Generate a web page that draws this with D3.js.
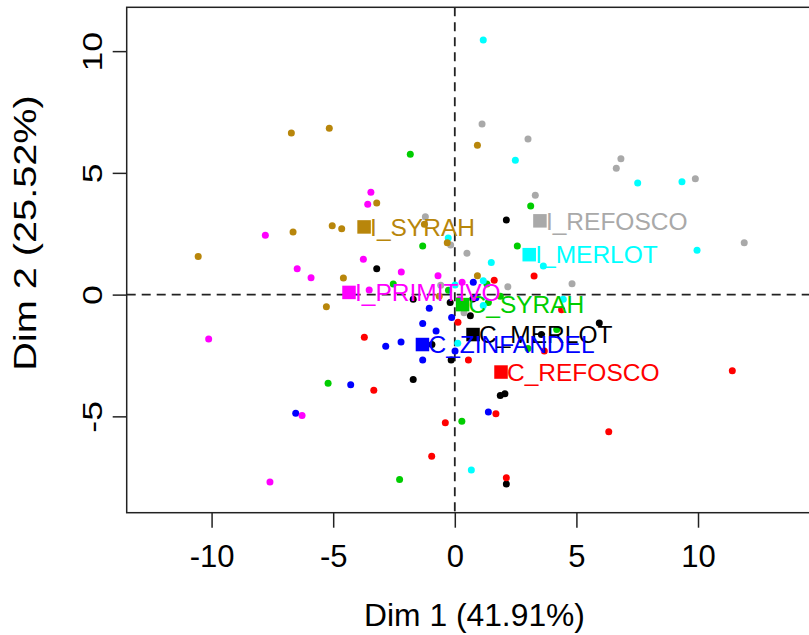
<!DOCTYPE html>
<html>
<head>
<meta charset="utf-8">
<script src="https://cdn.jsdelivr.net/npm/d3@7"></script>
<style>
  html, body { margin: 0; padding: 0; background: #fff; }
  svg { display: block; font-family: "Liberation Sans", Arial, Helvetica, sans-serif; }
</style>
</head>
<body>
<svg id="chart" width="809" height="635"></svg>
<script>
// ---- Data ----
const categories = ["C_MERLOT","C_REFOSCO","C_SYRAH","C_ZINFANDEL","I_MERLOT","I_PRIMITIVO","I_REFOSCO","I_SYRAH"];
const colors = ["#000000","#FF0000","#00CD00","#0000FF","#00FFFF","#FF00FF","#A9A9A9","#B8860B"];

// individual scores, Dim 1 and Dim 2, per category
const cMerlotX = [-3.21,-1.71,-0.19,0.74,0.64,-0.94,-0.15,-1.71,2.12,5.94,3.56,1.87,2.06,2.12];
const cMerlotY = [1.06,-0.19,-0.32,-0.18,-0.87,-2.05,-2.69,-3.49,3.06,-1.17,-1.64,-4.14,-4.07,-7.78];
const cRefoscoX = [3.26,1.62,4.39,0.13,3.68,0.56,-3.72,-3.33,-0.39,-0.95,1.69,6.33,11.41,2.12];
const cRefoscoY = [0.76,0.59,-0.62,-1.14,-2.32,-2.69,-1.75,-3.93,-5.26,-6.64,-4.89,-5.63,-3.13,-7.52];
const cSyrahX = [-1.83,-1.32,3.12,2.57,-2.53,-0.26,1.32,1.87,1.38,4.19,3.01,-5.21,0.29,-2.27];
const cSyrahY = [5.76,2.00,3.64,2.00,0.44,0.18,0.44,-0.07,-0.32,-1.43,-2.21,-3.64,-5.20,-7.59];
const cZinfandelX = [0.76,0.87,-1.05,-0.13,-1.32,-0.77,-2.21,-2.84,0.01,-1.32,-4.28,-6.54,1.38,-1.33];
const cZinfandelY = [0.51,-0.13,-0.56,-0.94,-1.19,-1.49,-1.95,-2.12,-2.32,-2.69,-3.70,-4.87,-4.82,-2.05];
const iMerlotX = [1.17,2.49,7.52,9.34,9.96,3.64,1.50,-0.27,0.01,1.17,4.46,1.17,0.12,0.68];
const iMerlotY = [10.46,5.52,4.58,4.64,1.82,1.18,1.32,2.32,0.39,0.57,-0.19,-0.45,-2.00,-7.20];
const iPrimitivoX = [-3.45,-3.58,-7.79,-3.76,-6.48,-5.91,-2.20,-0.69,0.30,-3.52,-10.12,-6.28,-7.60,0.18];
const iPrimitivoY = [4.20,3.71,2.44,1.45,1.06,0.69,0.93,0.77,0.51,0.19,-1.82,-4.96,-7.70,-0.21];
const iRefoscoX = [1.12,3.01,6.83,6.64,9.89,11.90,3.31,-1.21,-0.17,0.50,-0.58,2.18,4.82,0.38];
const iRefoscoY = [7.01,6.39,5.58,5.19,4.76,2.13,4.08,3.20,2.04,1.70,0.38,0.32,0.45,-0.74];
const iSyrahX = [-6.72,-5.16,0.93,-3.21,-1.25,-5.04,-4.65,-6.65,-0.31,-10.55,-4.58,-0.64,0.93,-5.28];
const iSyrahY = [6.64,6.83,6.13,3.76,2.89,2.83,2.71,2.57,2.13,1.57,0.68,-0.07,0.77,-0.50];

// category centres (squares)
const centreX = [0.75,1.90,0.32,-1.33,3.06,-4.35,3.50,-3.73];
const centreY = [-1.64,-3.18,-0.41,-2.05,1.64,0.09,3.03,2.78];

const xTicks = [-10,-5,0,5,10];
const yTicks = [-5,0,5,10];
const xTitle = "Dim 1 (41.91%)";
const yTitle = "Dim 2 (25.52%)";

// ---- Build ----
const groupsX = [cMerlotX,cRefoscoX,cSyrahX,cZinfandelX,iMerlotX,iPrimitivoX,iRefoscoX,iSyrahX];
const groupsY = [cMerlotY,cRefoscoY,cSyrahY,cZinfandelY,iMerlotY,iPrimitivoY,iRefoscoY,iSyrahY];
const points = [];
groupsX.forEach((gx, gi) => gx.forEach((v, i) => points.push({x: v, y: groupsY[gi][i], g: gi})));
const centres = categories.map((c, i) => ({name: c, x: centreX[i], y: centreY[i], g: i}));

const L = 126.7, R = 822.3, T = 7.3, B = 512.7;
const x = d3.scaleLinear().domain([-13.49, 15.11]).range([L, R]);
const y = d3.scaleLinear().domain([-8.957, 11.80]).range([B, T]);

const svg = d3.select("#chart");

// reference lines
svg.append("line").attr("x1", L).attr("x2", R).attr("y1", y(0)).attr("y2", y(0))
  .attr("stroke", "#222").attr("stroke-width", 1.8).attr("stroke-dasharray", "9,6");
svg.append("line").attr("x1", x(0)).attr("x2", x(0)).attr("y1", T).attr("y2", B)
  .attr("stroke", "#222").attr("stroke-width", 1.8).attr("stroke-dasharray", "9,6");

// axes
const fmt = d => d < 0 ? "-" + Math.abs(d) : String(d);
const xAxis = svg.append("g").attr("transform", `translate(0,${B})`)
  .call(d3.axisBottom(x).tickValues(xTicks).tickSize(15).tickPadding(17.3).tickFormat(fmt));
xAxis.select(".domain").remove();
xAxis.selectAll("line").attr("stroke", "#222").attr("stroke-width", 1.5);
xAxis.selectAll("text").attr("font-size", 31).attr("fill", "#000")
  .attr("font-family", "Liberation Sans, Arial, sans-serif");

const yAxis = svg.append("g").attr("transform", `translate(${L},0)`)
  .call(d3.axisLeft(y).tickValues(yTicks).tickSize(14).tickFormat(fmt));
yAxis.select(".domain").remove();
yAxis.selectAll("line").attr("stroke", "#222").attr("stroke-width", 1.5);
yAxis.selectAll("text")
  .attr("x", null).attr("dy", null)
  .attr("text-anchor", "middle")
  .attr("transform", `translate(${102 - L},0) rotate(-90) scale(1.15,0.88)`)
  .attr("font-size", 31).attr("fill", "#000")
  .attr("font-family", "Liberation Sans, Arial, sans-serif");

// box
svg.append("rect").attr("x", L).attr("y", T).attr("width", R - L).attr("height", B - T)
  .attr("fill", "none").attr("stroke", "#222").attr("stroke-width", 1.5);

// titles
svg.append("text").attr("x", 474.5).attr("y", 626).attr("text-anchor", "middle")
  .attr("font-size", 31.8).text(xTitle);
svg.append("text").attr("transform", `translate(36,233) rotate(-90) scale(1.28,1)`).attr("text-anchor", "middle")
  .attr("font-size", 31).text(yTitle);

// individuals
svg.append("g").selectAll("circle").data(points).join("circle")
  .attr("cx", d => x(d.x)).attr("cy", d => y(d.y)).attr("r", 3.5)
  .attr("fill", d => colors[d.g]);

// category centres with labels
const sq = 13.5, fs = 24.5;
const cg = svg.append("g").selectAll("g").data(centres).join("g");
cg.append("rect")
  .attr("x", d => x(d.x) - sq / 2).attr("y", d => y(d.y) - sq / 2)
  .attr("width", sq).attr("height", sq).attr("fill", d => colors[d.g]);
cg.append("text")
  .attr("x", d => x(d.x) + 6).attr("y", d => y(d.y) + 0.358 * fs)
  .attr("font-size", fs).attr("fill", d => colors[d.g]).text(d => d.name);
</script>
</body>
</html>
